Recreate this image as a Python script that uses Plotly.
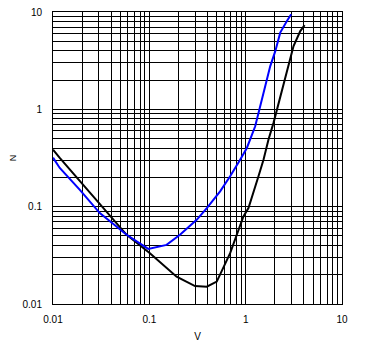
import plotly.graph_objects as go

# Black curve
black_v = [0.01, 0.01175, 0.0581, 0.1014, 0.192, 0.298, 0.395, 0.501, 0.690, 0.948, 1.069,
           1.205, 1.358, 1.531, 1.726, 1.946, 2.285, 2.576, 2.904, 3.14, 3.69, 4.09]
black_n = [0.385, 0.317, 0.0514, 0.0333, 0.0191, 0.0153, 0.01507, 0.0170, 0.0333, 0.0793, 0.0968,
           0.138, 0.205, 0.304, 0.489, 0.726, 1.365, 2.11, 3.39, 4.47, 6.37, 7.34]

# Blue curve
blue_v = [0.01, 0.01175, 0.0190, 0.0306, 0.0581, 0.0975, 0.151, 0.208, 0.310, 0.395, 0.543,
          0.690, 0.876, 1.029, 1.256, 1.474, 1.597, 1.80, 2.03, 2.285, 2.68, 2.97]
blue_n = [0.319, 0.250, 0.149, 0.0859, 0.0514, 0.0368, 0.0405, 0.0514, 0.0733, 0.0968, 0.1436,
          0.205, 0.304, 0.401, 0.670, 1.262, 1.73, 2.78, 3.96, 6.14, 8.07, 9.47]

decade_labels = {0.01: "0.01", 0.1: "0.1", 1: "1", 10: "10"}
grid_vals = []
for d in [0.01, 0.1, 1]:
    for k in range(1, 10):
        grid_vals.append(round(d * k, 6))
grid_vals.append(10)
grid_text = [decade_labels.get(v, "") for v in grid_vals]

fig = go.Figure()
fig.add_trace(go.Scatter(x=black_v, y=black_n, mode="lines",
                         line=dict(color="black", width=2), showlegend=False))
fig.add_trace(go.Scatter(x=blue_v, y=blue_n, mode="lines",
                         line=dict(color="#0000ff", width=2), showlegend=False))

font_family = "Liberation Sans, Arial, sans-serif"
axis_common = dict(
    type="log", range=[-2, 1], tickvals=grid_vals, ticktext=grid_text,
    showgrid=True, gridcolor="black", gridwidth=1, zeroline=False,
    showline=True, linecolor="black", linewidth=1, mirror=True, automargin=False,
    ticks="", tickfont=dict(family=font_family, size=10, color="black"),
)

fig.update_layout(
    width=369, height=342,
    margin=dict(l=53, r=27, t=12, b=38),
    paper_bgcolor="white", plot_bgcolor="white",
    xaxis=dict(**axis_common, ticklabelstandoff=6,
               title=dict(text="V", standoff=8,
                          font=dict(family=font_family, size=10, color="black"))),
    yaxis=dict(**axis_common, ticklabelstandoff=8,
               title=dict(text="N", standoff=4,
                          font=dict(family=font_family, size=9, color="black"))),
)

fig.write_html("out.html", config={"displayModeBar": False},
               post_script="document.body.style.margin='0px';document.body.style.overflow='hidden';")
